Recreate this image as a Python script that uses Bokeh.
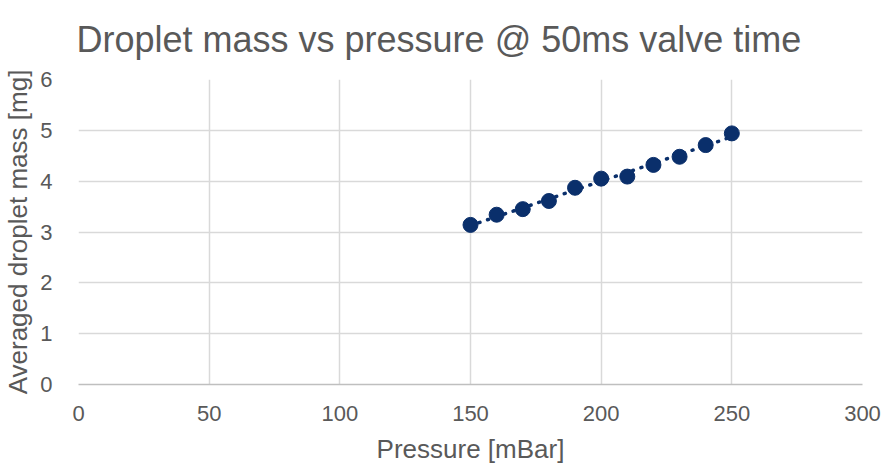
import numpy as np
from bokeh.plotting import figure
from bokeh.models import Range1d, FixedTicker, Title
from bokeh.embed import file_html
from bokeh.resources import INLINE

# Data
pressure = [150, 160, 170, 180, 190, 200, 210, 220, 230, 240, 250]
mass = [3.14, 3.34, 3.45, 3.61, 3.87, 4.05, 4.09, 4.32, 4.48, 4.71, 4.94]
x_ticks = [0, 50, 100, 150, 200, 250, 300]
y_ticks = [0, 1, 2, 3, 4, 5, 6]
title_text = "Droplet mass vs pressure @ 50ms valve time"

TEXT = "#595959"
GRID = "#d9d9d9"
NAVY = "#0a2f6b"
FONT = "Liberation Sans"

FW, FH = 784, 305
p = figure(frame_width=FW, frame_height=FH, output_backend="svg", toolbar_location=None,
           x_range=Range1d(0, 300), y_range=Range1d(0, 6),
           min_border_left=78, min_border_right=21, min_border_top=79, min_border_bottom=70)
p.title = None
p.outline_line_color = None
p.background_fill_color = "white"
p.border_fill_color = "white"

p.add_layout(Title(text=title_text, align="left", vertical_align="top",
                   text_font=FONT, text_font_size="36px", text_font_style="normal",
                   text_color=TEXT, standoff=35, offset=-2), "above")

for ax in (p.xaxis, p.yaxis):
    ax.major_label_text_font = FONT
    ax.major_label_text_font_size = "22px"
    ax.major_label_text_color = TEXT
    ax.axis_label_text_font = FONT
    ax.axis_label_text_font_size = "26px"
    ax.axis_label_text_font_style = "normal"
    ax.axis_label_text_color = TEXT
    ax.major_tick_line_color = None
    ax.minor_tick_line_color = None

p.xaxis.axis_label = "Pressure [mBar]"
p.yaxis.axis_label = "Averaged droplet mass [mg]"
p.xaxis.ticker = FixedTicker(ticks=x_ticks)
p.yaxis.ticker = FixedTicker(ticks=y_ticks)
p.xaxis.axis_line_color = "#bfbfbf"
p.xaxis.axis_line_width = 1.5
p.yaxis.axis_line_color = None
p.xaxis.major_label_standoff = 15
p.yaxis.major_label_standoff = 20
p.xaxis.axis_label_standoff = 10
p.yaxis.axis_label_standoff = 4

p.xgrid.ticker = FixedTicker(ticks=x_ticks)
p.ygrid.ticker = FixedTicker(ticks=y_ticks)
p.grid.grid_line_color = GRID
p.grid.grid_line_width = 1.5

# Linear trendline
coef = np.polyfit(pressure, mass, 1)
tx = np.array([min(pressure), max(pressure)])
ty = np.polyval(coef, tx)
p.line(tx, ty, line_color=NAVY, line_width=3.5, line_dash="1 8", line_cap="round")

p.scatter(pressure, mass, size=15, fill_color=NAVY, line_color=NAVY)

open("out.html", "w").write(file_html(p, INLINE))
